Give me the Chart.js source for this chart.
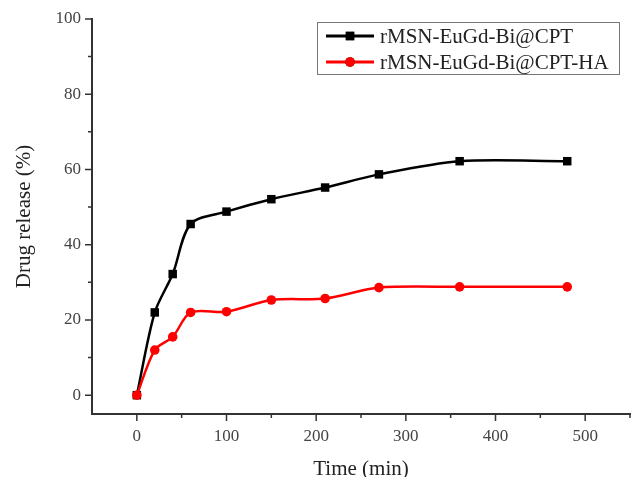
<!DOCTYPE html>
<html>
<head>
<meta charset="utf-8">
<script src="https://cdn.jsdelivr.net/npm/chart.js@4/dist/chart.umd.min.js"></script>
<style>
  html, body { margin: 0; padding: 0; background: #fff; }
  #wrap { width: 631px; height: 477px; }
</style>
</head>
<body>
<div id="wrap"><canvas id="release"></canvas></div>
<script>
const times = [0, 20, 40, 60, 100, 150, 210, 270, 360, 480];
const cptRelease = [0, 22, 32.2, 45.5, 48.8, 52.1, 55.2, 58.7, 62.2, 62.2];
const cptHaRelease = [0, 12, 15.5, 22, 22.2, 25.3, 25.7, 28.6, 28.8, 28.8];
const seriesNames = ["rMSN-EuGd-Bi@CPT", "rMSN-EuGd-Bi@CPT-HA"];
const xTicks = [-50, 0, 50, 100, 150, 200, 250, 300, 350, 400, 450, 500, 550];
const yTicks = [0, 10, 20, 30, 40, 50, 60, 70, 80, 90, 100];

const serif = "'Liberation Serif', 'DejaVu Serif', serif";
const ink = "#333";
const clear = "rgba(0,0,0,0)";

const pts = vals => times.map((t, i) => ({ x: t, y: vals[i] }));
const isMajorX = v => v >= 0 && v % 100 === 0;
const isMajorY = v => v % 20 === 0;

// outward ticks: long for labelled values, short for the rest
const axisTicks = {
  id: "axisTicks",
  afterDraw(chart) {
    const { ctx, scales: { x, y } } = chart;
    ctx.save();
    ctx.strokeStyle = ink;
    ctx.lineWidth = 1.5;
    ctx.beginPath();
    x.ticks.forEach(t => {
      if (t.value === -50) return;
      const px = x.getPixelForValue(t.value);
      ctx.moveTo(px, x.top);
      ctx.lineTo(px, x.top + (isMajorX(t.value) ? 7 : 4));
    });
    y.ticks.forEach(t => {
      const py = y.getPixelForValue(t.value);
      ctx.moveTo(y.right, py);
      ctx.lineTo(y.right - (isMajorY(t.value) ? 7 : 4), py);
    });
    ctx.stroke();
    ctx.restore();
  }
};

// legend drawn by hand, Origin style: line with marker in the middle
const boxLegend = {
  id: "boxLegend",
  afterDraw(chart) {
    const ctx = chart.ctx;
    ctx.save();
    ctx.strokeStyle = "#777";
    ctx.lineWidth = 1;
    ctx.strokeRect(317.5, 22.5, 302, 52);
    const rows = [36, 62];
    [1, 0].forEach((di, r) => {
      const ds = chart.data.datasets[di];
      const y = rows[r];
      ctx.strokeStyle = ds.borderColor;
      ctx.lineWidth = 3;
      ctx.beginPath();
      ctx.moveTo(326, y);
      ctx.lineTo(374, y);
      ctx.stroke();
      Chart.helpers.drawPoint(ctx, {
        pointStyle: ds.pointStyle, radius: ds.pointRadius, borderWidth: 0
      }, 350, y);
      ctx.fillStyle = ds.pointBackgroundColor;
      ctx.fill();
      ctx.fillStyle = "#222";
      ctx.font = "21px " + serif;
      ctx.textBaseline = "middle";
      ctx.fillText(ds.label, 380, y + 1);
    });
    ctx.restore();
  }
};

new Chart(document.getElementById("release"), {
  type: "line",
  data: {
    datasets: [
      {
        label: seriesNames[1],
        data: pts(cptHaRelease),
        borderColor: "#ff0000",
        backgroundColor: "#ff0000",
        pointBackgroundColor: "#ff0000",
        pointBorderWidth: 0,
        pointStyle: "circle",
        pointRadius: 4.8,
        borderWidth: 2.5,
        tension: 0.3,
        order: 0
      },
      {
        label: seriesNames[0],
        data: pts(cptRelease),
        borderColor: "#000",
        backgroundColor: "#000",
        pointBackgroundColor: "#000",
        pointBorderWidth: 0,
        pointStyle: "rect",
        pointRadius: 6,
        borderWidth: 2.5,
        tension: 0.3,
        order: 1
      }
    ]
  },
  options: {
    responsive: true,
    maintainAspectRatio: false,
    animation: false,
    layout: { autoPadding: false, padding: { top: 19, right: 1, left: 8 } },
    plugins: {
      legend: { display: false },
      tooltip: { enabled: false }
    },
    scales: {
      x: {
        type: "linear",
        min: -50,
        max: 550,
        afterBuildTicks: s => { s.ticks = xTicks.map(v => ({ value: v })); },
        afterFit: s => { s.height = 63; },
        border: { color: ink, width: 2 },
        grid: { drawOnChartArea: false, tickLength: 12, tickColor: clear },
        ticks: {
          color: "#444",
          font: { family: serif, size: 17 },
          padding: 0,
          maxRotation: 0,
          autoSkip: false,
          callback: v => (isMajorX(v) ? v : "")
        },
        title: {
          display: true,
          text: "Time (min)",
          color: "#222",
          font: { family: serif, size: 21 },
          padding: { top: 4, bottom: -5 }
        }
      },
      y: {
        min: -5,
        max: 100,
        afterBuildTicks: s => { s.ticks = yTicks.map(v => ({ value: v })); },
        afterFit: s => { s.width = 84; },
        border: { color: ink, width: 2 },
        grid: { drawOnChartArea: false, tickLength: 11, tickColor: clear },
        ticks: {
          color: "#444",
          font: { family: serif, size: 17 },
          padding: 0,
          autoSkip: false,
          callback: v => (isMajorY(v) ? v : "")
        },
        title: {
          display: true,
          text: "Drug release (%)",
          color: "#222",
          font: { family: serif, size: 21 },
          padding: { bottom: 4 }
        }
      }
    }
  },
  plugins: [axisTicks, boxLegend]
});
</script>
</body>
</html>
